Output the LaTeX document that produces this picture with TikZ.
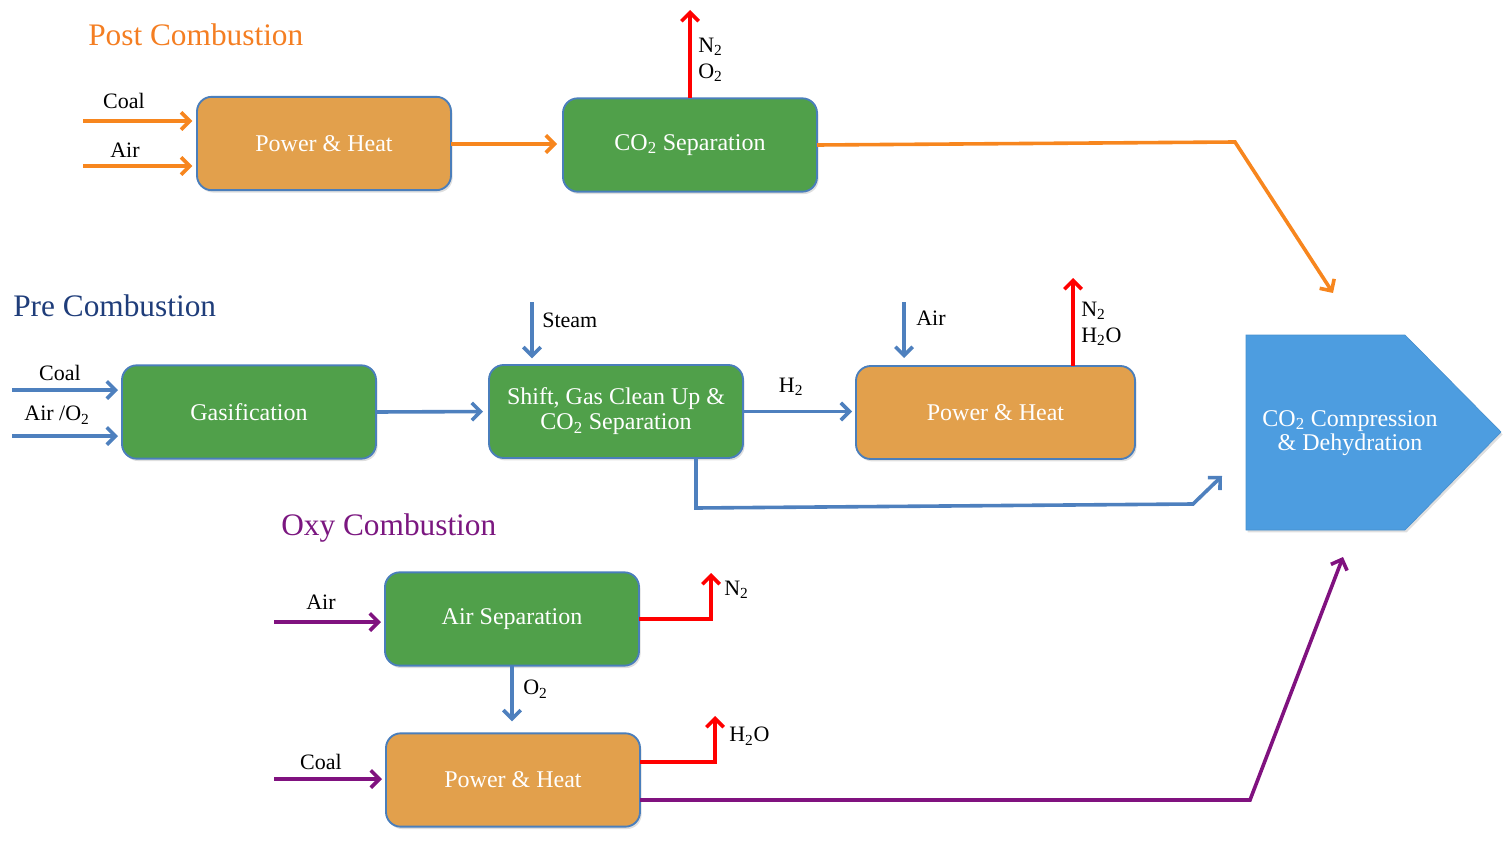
\documentclass[tikz,border=0pt]{standalone}
\usepackage{fontspec}
\setmainfont{Liberation Serif}
\usetikzlibrary{arrows.meta,shadows}
\definecolor{boxor}{HTML}{E2A04C}
\definecolor{boxgr}{HTML}{50A04A}
\definecolor{boxbd}{HTML}{4A7EBB}
\definecolor{aror}{HTML}{F7861E}
\definecolor{arbl}{HTML}{4E80BE}
\definecolor{arpu}{HTML}{80127F}
\definecolor{arrd}{HTML}{FF0000}
\definecolor{ttor}{HTML}{F47E22}
\definecolor{ttbl}{HTML}{1F3D7A}
\definecolor{ttpu}{HTML}{7B1780}
\definecolor{compbl}{HTML}{4D9DE0}
\begin{document}
\begin{tikzpicture}[x=0.75pt,y=-0.75pt,
  procbox/.style={draw=boxbd, line width=1.4pt, rounded corners=11pt, text=white,
    font=\fontsize{18}{18.75}\selectfont, align=center, inner sep=0pt, outer sep=0pt,
    minimum width=190.5pt, minimum height=70pt,
    drop shadow={shadow xshift=1.2pt,shadow yshift=-1.8pt,opacity=0.25}},
  lbl/.style={font=\fontsize{16.5}{19.5}\selectfont, inner sep=0pt, text=black},
  ttl/.style={font=\fontsize{23.5}{26}\selectfont, inner sep=0pt, anchor=west},
  flow/.style={line width=2.7pt, -{Straight Barb[length=6.5pt,width=13pt]}},
  oflow/.style={flow, draw=aror},
  bflow/.style={flow, draw=arbl},
  pflow/.style={flow, draw=arpu},
  rflow/.style={flow, draw=arrd},
]
\useasboundingbox (0,0) rectangle (1510,842);

% titles
\node[ttl, text=ttor] (tpost) at (88,35) {Post Combustion};
\node[ttl, text=ttbl] (tpre) at (13,306) {Pre Combustion};
\node[ttl, text=ttpu] (toxy) at (281,528) {Oxy Combustion};

% ---------- Post combustion ----------
\node[procbox, fill=boxor] (pph) at (324,143.5) {Power \& Heat};
\node[procbox, fill=boxgr] (csep) at (690,145) {CO\textsubscript{2} Separation};

\coordinate (pcoal) at (83,121);
\coordinate (pair) at (83,166);
\draw[oflow, shorten >=3.5pt] (pcoal) -- (pcoal -| pph.west);
\draw[oflow, shorten >=3.5pt] (pair) -- (pair -| pph.west);
\node[lbl] (lpcoal) at (124,101) {Coal};
\node[lbl] (lpair) at (125,150) {Air};
\draw[oflow, shorten >=4.5pt] (pph.east |- 0,144) -- (csep.west |- 0,144);

\coordinate (pn2) at (690,10);
\draw[rflow] (csep.north) -- (pn2);
\node[lbl, anchor=west, align=left] (lpn2) at (698,60) {N\textsubscript{2}\\O\textsubscript{2}};

\coordinate (pbend) at (1235,142);
\coordinate (pend) at (1333,293);
\draw[oflow] (csep.east) -- (pbend) -- (pend);

% ---------- Pre combustion ----------
\node[procbox, fill=boxgr] (gas) at (249,412) {Gasification};
\node[procbox, fill=boxgr, minimum height=69.75pt] (shift) at (616,411.5) {Shift, Gas Clean Up \&\\CO\textsubscript{2} Separation};
\node[procbox, fill=boxor, minimum width=209.25pt, minimum height=69.75pt] (pph2) at (995.5,412.5) {Power \& Heat};

\coordinate (gcoal) at (12,390);
\coordinate (gair) at (12,436);
\draw[bflow, shorten >=3pt] (gcoal) -- (gcoal -| gas.west);
\draw[bflow, shorten >=3pt] (gair) -- (gair -| gas.west);
\node[lbl] (lgcoal) at (60,373) {Coal};
\node[lbl] (lgair) at (57,415) {Air /O\textsubscript{2}};
\draw[bflow, shorten >=4.5pt] (gas.east) -- (shift.west);

\coordinate (stm) at (532,302);
\draw[bflow, shorten >=5pt] (stm) -- (stm |- shift.north);
\node[lbl, anchor=west] (lstm) at (542,320) {Steam};

\draw[bflow, shorten >=3pt] (shift.east) -- (shift.east -| pph2.west);
\node[lbl] (lh2) at (791,387) {H\textsubscript{2}};

\coordinate (pair2) at (904,302);
\draw[bflow, shorten >=6pt] (pair2) -- (pair2 |- pph2.north);
\node[lbl, anchor=west] (lpair2) at (916,318) {Air};

\coordinate (pn2b) at (1073,278);
\draw[rflow] (pn2b |- pph2.north) -- (pn2b);
\node[lbl, anchor=west, align=left] (lpn2b) at (1081,324) {N\textsubscript{2}\\H\textsubscript{2}O};

\coordinate (sb1) at (696,508);
\coordinate (sb2) at (1193,504);
\coordinate (sb3) at (1222,476);
\draw[bflow] (sb1 |- shift.south) -- (sb1) -- (sb2) -- (sb3);

% ---------- CO2 compression ----------
\draw[fill=compbl, draw=compbl!92!black, line width=0.5pt,
  drop shadow={shadow xshift=1.2pt,shadow yshift=-1.8pt,opacity=0.25}]
  (1246,335) -- (1405,335) -- (1501,432) -- (1405,530) -- (1246,530) -- cycle;
\node[text=white, font=\fontsize{18}{18}\selectfont, align=center, inner sep=0pt] (comp) at (1350,433) {CO\textsubscript{2} Compression\\\& Dehydration};

% ---------- Oxy combustion ----------
\node[procbox, fill=boxgr] (asep) at (512,619) {Air Separation};
\node[procbox, fill=boxor] (pph3) at (513,780) {Power \& Heat};

\coordinate (oair) at (274,622);
\coordinate (ocoal) at (274,779);
\draw[pflow, shorten >=3pt] (oair) -- (oair -| asep.west);
\draw[pflow, shorten >=3pt] (ocoal) -- (ocoal -| pph3.west);
\node[lbl] (loair) at (321,602) {Air};
\node[lbl] (locoal) at (321,762) {Coal};

\coordinate (on2) at (711,573);
\draw[rflow] (asep.east) -| (on2);
\node[lbl, anchor=west] (lon2) at (724,590) {N\textsubscript{2}};

\draw[bflow, shorten >=9pt] (asep.south) -- (asep.south |- pph3.north);
\node[lbl, anchor=west] (lo2) at (523,689) {O\textsubscript{2}};

\coordinate (oh2o) at (715,716);
\draw[rflow] ([yshift=13.5pt]pph3.east) -| (oh2o);
\node[lbl, anchor=west] (loh2o) at (729,736) {H\textsubscript{2}O};

\coordinate (op1) at (1250,800);
\coordinate (op2) at (1343,557);
\draw[pflow] ([yshift=-15pt]pph3.east) -- (op1) -- (op2);
\end{tikzpicture}
\end{document}
